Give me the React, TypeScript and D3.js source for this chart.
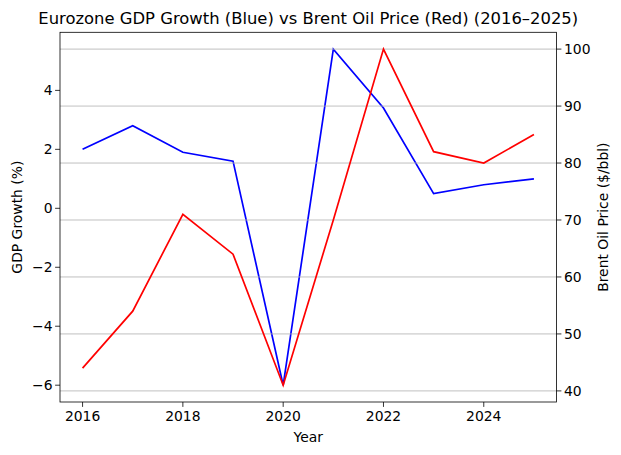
import * as d3 from 'd3';
import React from 'react';

const years = [2016, 2017, 2018, 2019, 2020, 2021, 2022, 2023, 2024, 2025];
const gdpGrowth = [2.0, 2.8, 1.9, 1.6, -6.0, 5.4, 3.4, 0.5, 0.8, 1.0];
const oilPrice = [44, 54, 71, 64, 41, 70, 100, 82, 80, 85];
const xTicks = [2016, 2018, 2020, 2022, 2024];
const gdpTicks = [-6, -4, -2, 0, 2, 4];
const oilTicks = [40, 50, 60, 70, 80, 90, 100];

const W = 621;
const H = 455;
const left = 60;
const right = 556.5;
const top = 32.3;
const bottom = 402;
const font = 'DejaVu Sans, sans-serif';

// matplotlib-style 5% margins
const pad = (lo: number, hi: number): [number, number] => {
    const m = (hi - lo) * 0.05;
    return [lo - m, hi + m];
};

export default function App() {
    const x = d3.scaleLinear().domain(pad(d3.min(years)!, d3.max(years)!)).range([left, right]);
    const yL = d3.scaleLinear().domain(pad(d3.min(gdpGrowth)!, d3.max(gdpGrowth)!)).range([bottom, top]);
    const yR = d3.scaleLinear().domain(pad(d3.min(oilPrice)!, d3.max(oilPrice)!)).range([bottom, top]);

    const gdpLine = d3.line<number>().x((_, i) => x(years[i])).y((d) => yL(d));
    const oilLine = d3.line<number>().x((_, i) => x(years[i])).y((d) => yR(d));

    return (
        <svg width={W} height={H} style={{ position: 'absolute', left: 0, top: 0, background: '#fff' }}>
            <text x={(left + right) / 2} y={24} textAnchor="middle" fontSize={16.4} fontFamily={font}>
                Eurozone GDP Growth (Blue) vs Brent Oil Price (Red) (2016–2025)
            </text>

            <path d={gdpLine(gdpGrowth)!} fill="none" stroke="#0000ff" strokeWidth={1.7} />

            {oilTicks.map((t) => (
                <line key={t} x1={left} x2={right} y1={yR(t)} y2={yR(t)} stroke="#b0b0b0" strokeWidth={0.8} />
            ))}

            <path d={oilLine(oilPrice)!} fill="none" stroke="#ff0000" strokeWidth={1.7} />

            <rect x={left} y={top} width={right - left} height={bottom - top} fill="none" stroke="#000" strokeWidth={0.8} />

            {xTicks.map((t) => (
                <g key={t}>
                    <line x1={x(t)} x2={x(t)} y1={bottom} y2={bottom + 4.9} stroke="#000" strokeWidth={0.8} />
                    <text x={x(t)} y={bottom + 19} textAnchor="middle" fontSize={13.9} fontFamily={font}>
                        {t}
                    </text>
                </g>
            ))}

            {gdpTicks.map((t) => (
                <g key={t}>
                    <line x1={left - 4.9} x2={left} y1={yL(t)} y2={yL(t)} stroke="#000" strokeWidth={0.8} />
                    <text x={left - 7.5} y={yL(t) + 5} textAnchor="end" fontSize={13.9} fontFamily={font}>
                        {t < 0 ? `\u2212${Math.abs(t)}` : t}
                    </text>
                </g>
            ))}

            {oilTicks.map((t) => (
                <g key={t}>
                    <line x1={right} x2={right + 4.9} y1={yR(t)} y2={yR(t)} stroke="#000" strokeWidth={0.8} />
                    <text x={right + 7.5} y={yR(t) + 5} textAnchor="start" fontSize={13.9} fontFamily={font}>
                        {t}
                    </text>
                </g>
            ))}

            <text x={(left + right) / 2} y={442} textAnchor="middle" fontSize={13.9} fontFamily={font}>
                Year
            </text>
            <text
                transform={`translate(22,${(top + bottom) / 2}) rotate(-90)`}
                textAnchor="middle"
                fontSize={13.9}
                fontFamily={font}
            >
                GDP Growth (%)
            </text>
            <text
                transform={`translate(608,${(top + bottom) / 2}) rotate(-90)`}
                textAnchor="middle"
                fontSize={13.9}
                fontFamily={font}
            >
                Brent Oil Price ($/bbl)
            </text>
        </svg>
    );
}
